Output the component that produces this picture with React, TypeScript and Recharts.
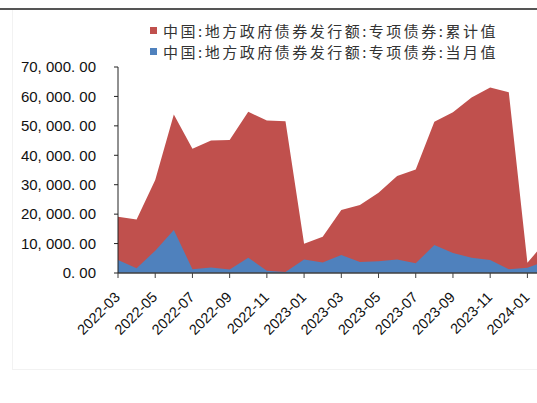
import React from "react";
import { Area, AreaChart, Legend, XAxis, YAxis } from "recharts";

const months = [
  "2022-03", "2022-04", "2022-05", "2022-06", "2022-07", "2022-08", "2022-09", "2022-10",
  "2022-11", "2022-12", "2023-01", "2023-02", "2023-03", "2023-04", "2023-05", "2023-06",
  "2023-07", "2023-08", "2023-09", "2023-10", "2023-11", "2023-12", "2024-01", "2024-02",
];

// 累计值
const cumulative = [
  19100, 18200, 31600, 53900, 42200, 45000, 45200, 54800,
  51800, 51600, 9900, 12300, 21400, 23100, 27300, 33000,
  35200, 51400, 54600, 59600, 63000, 61400, 3500, 10800,
];

// 当月值
const monthly = [
  4400, 1600, 7600, 14600, 1300, 1900, 1200, 5200,
  800, 300, 4600, 3600, 6100, 3700, 4000, 4600,
  3300, 9500, 6800, 5200, 4400, 1300, 1800, 4100,
];

const yTicks = [0, 10000, 20000, 30000, 40000, 50000, 60000, 70000];

const NAME_CUM = "中国:地方政府债券发行额:专项债券:累计值";
const NAME_MON = "中国:地方政府债券发行额:专项债券:当月值";
const RED = "#C0504D";
const BLUE = "#4F81BD";

const data = months.map((m, i) => ({ month: m, cum: cumulative[i], mon: monthly[i] }));

function fmtY(v: number) {
  return v
    .toLocaleString("en-US", { minimumFractionDigits: 2, maximumFractionDigits: 2 })
    .replace(/([,.])/g, "$1 ");
}

function XTick({ x, y, payload }: { x?: number; y?: number; payload?: { value: string } }) {
  return (
    <g transform={`translate(${(x ?? 0) + 3},${(y ?? 0) + 18})`}>
      <text
        transform="rotate(-45)"
        textAnchor="end"
        fontSize={14.5}
        fill="#111"
        fontFamily="'Liberation Sans', Arial, sans-serif"
      >
        {payload?.value}
      </text>
    </g>
  );
}

function ChartLegend() {
  const items = [
    { name: NAME_CUM, color: RED },
    { name: NAME_MON, color: BLUE },
  ];
  return (
    <div style={{ fontFamily: "'Noto Sans CJK SC', sans-serif", fontSize: 15, color: "#333" }}>
      {items.map((it) => (
        <div key={it.name} style={{ display: "flex", alignItems: "center", height: 21, letterSpacing: 2.5 }}>
          <span style={{ width: 7, height: 7, background: it.color, marginRight: 6, display: "inline-block" }} />
          <span>{it.name}</span>
        </div>
      ))}
    </div>
  );
}

export default function App() {
  return (
    <div
      style={{
        position: "absolute",
        left: 0,
        top: 0,
        width: 537,
        height: 403,
        overflow: "hidden",
        background: "#fff",
      }}
    >
      <div style={{ position: "absolute", left: 0, top: 8, width: 537, height: 2, background: "#555" }} />
      <div style={{ position: "absolute", left: 12, top: 10, width: 1, height: 359, background: "#f2f2f2" }} />
      <div style={{ position: "absolute", left: 12, top: 369, width: 525, height: 1, background: "#f2f2f2" }} />
      <div style={{ position: "absolute", left: 0, top: 0 }}>
        <AreaChart width={560} height={403} data={data} margin={{ top: 67, right: 14, left: 0, bottom: 70 }}>
          <Legend
            verticalAlign="middle"
            layout="horizontal"
            content={<ChartLegend />}
            wrapperStyle={{ position: "absolute", top: 20, left: 150, width: 400 }}
          />
          <XAxis
            dataKey="month"
            interval={1}
            tick={<XTick />}
            tickSize={5}
            axisLine={{ stroke: "#404040", strokeWidth: 1.5 }}
            tickLine={{ stroke: "#404040" }}
            height={60}
            padding={{ left: 0, right: 0 }}
          />
          <YAxis
            domain={[0, 70000]}
            ticks={yTicks}
            tickFormatter={fmtY}
            width={118}
            tickSize={4}
            tickMargin={18}
            axisLine={{ stroke: "#222" }}
            tickLine={{ stroke: "#222" }}
            tick={{ fill: "#111", fontSize: 15, fontFamily: "'Liberation Sans', Arial, sans-serif" }}
          />
          <Area
            type="linear"
            dataKey="cum"
            name={NAME_CUM}
            stroke="none"
            fill={RED}
            fillOpacity={1}
            isAnimationActive={false}
          />
          <Area
            type="linear"
            dataKey="mon"
            name={NAME_MON}
            stroke="none"
            fill={BLUE}
            fillOpacity={1}
            isAnimationActive={false}
          />
        </AreaChart>
      </div>
    </div>
  );
}
